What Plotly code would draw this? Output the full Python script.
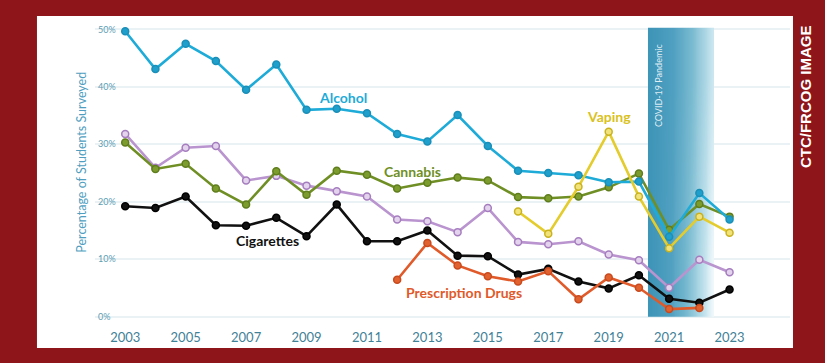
import plotly.graph_objects as go

years = list(range(2003, 2024))
alcohol = [49.7, 43.1, 47.5, 44.5, 39.5, 43.9, 36.0, 36.2, 35.4, 31.8, 30.5, 35.1, 29.7, 25.4, 25.0, 24.6, 23.4, 23.5, 13.9, 21.5, 16.9]
cannabis = [30.3, 25.7, 26.6, 22.3, 19.5, 25.3, 21.2, 25.4, 24.7, 22.3, 23.3, 24.2, 23.7, 20.8, 20.6, 20.9, 22.5, 24.9, 15.1, 19.6, 17.4]
purple = [31.8, 25.9, 29.4, 29.7, 23.7, 24.5, 22.8, 21.8, 20.9, 16.9, 16.6, 14.7, 18.9, 13.0, 12.6, 13.1, 10.8, 9.8, 5.0, 9.9, 7.7]
cigarettes = [19.2, 18.9, 20.9, 15.9, 15.8, 17.2, 14.0, 19.5, 13.1, 13.1, 15.0, 10.6, 10.5, 7.3, 8.3, 6.1, 4.9, 7.2, 3.1, 2.4, 4.7]
rx_years = list(range(2012, 2023))
prescription = [6.4, 12.8, 8.9, 7.0, 6.1, 7.9, 3.0, 6.8, 5.0, 1.3, 1.5]
vape_years = list(range(2016, 2024))
vaping = [18.3, 14.4, 22.6, 32.2, 20.9, 11.9, 17.4, 14.6]

y_ticks = [0, 10, 20, 30, 40, 50]
y_tick_text = ["0%", "10%", "20%", "30%", "40%", "50%"]
x_ticks = [2003, 2005, 2007, 2009, 2011, 2013, 2015, 2017, 2019, 2021, 2023]

covid_start, covid_end, covid_top = 2020.3, 2022.48, 50.3

RED = "#8e1519"
FONT = "Lato"

fig = go.Figure()

# covid band as a smooth gradient (decoration)
N = 24
band_x = [covid_start + (covid_end - covid_start) * i / N for i in range(N + 1)]
band_z = []
for yf in [0.0, 0.5, 1.0]:
    row = []
    for i in range(N):
        t = (i + 0.5) / N
        row.append(t + 0.12 * (1 - yf) * t)
    band_z.append(row)
fig.add_trace(go.Heatmap(
    x=band_x, y=[0, covid_top * 0.33, covid_top * 0.66, covid_top],
    z=band_z, zmin=0, zmax=1.1,
    colorscale=[[0, "rgb(60,148,182)"], [0.35, "rgb(80,160,193)"],
                [0.6, "rgb(120,186,208)"], [0.85, "rgb(190,224,235)"],
                [1, "rgb(240,248,251)"]],
    showscale=False, hoverinfo="skip", zsmooth="best"))

def add_series(x, y, color, fill, border, name):
    fig.add_trace(go.Scatter(
        x=x, y=y, mode="lines+markers", name=name,
        line=dict(color=color, width=2.6),
        marker=dict(size=7, color=fill, line=dict(color=border, width=1.5)),
        cliponaxis=False, showlegend=False))

add_series(years, purple, "#b994cf", "#e3d3ec", "#a57dbf", "Other")
add_series(years, cannabis, "#6f8f25", "#7d9c2e", "#5f7d1c", "Cannabis")
add_series(years, alcohol, "#1eabd8", "#1f9fcb", "#1a8fb8", "Alcohol")
add_series(vape_years, vaping, "#e3cc2c", "#f2e27a", "#c9b21f", "Vaping")
add_series(years, cigarettes, "#111111", "#111111", "#000000", "Cigarettes")
add_series(rx_years, prescription, "#e05a2a", "#e2622f", "#c84a1e", "Prescription Drugs")

shapes = [dict(type="rect", xref="paper", yref="paper",
               x0=-0.0835, x1=1.0043, y0=-0.0645, y1=1.0065,
               fillcolor="white", line=dict(width=0), layer="below")]

annotations = [
    dict(x=2010.2, y=38.1, text="<b>Alcohol</b>", showarrow=False,
         font=dict(color="#1eabd8", size=14, family=FONT)),
    dict(x=2012.5, y=25.2, text="<b>Cannabis</b>", showarrow=False,
         font=dict(color="#6f8f25", size=14, family=FONT)),
    dict(x=2019.0, y=34.8, text="<b>Vaping</b>", showarrow=False,
         font=dict(color="#d9c222", size=14, family=FONT)),
    dict(x=2007.7, y=13.2, text="<b>Cigarettes</b>", showarrow=False,
         font=dict(color="#111111", size=14, family=FONT)),
    dict(x=2014.2, y=4.2, text="<b>Prescription Drugs</b>", showarrow=False,
         font=dict(color="#e05a2a", size=14, family=FONT)),
    dict(x=2020.63, y=40.3, text="COVID-19 Pandemic", textangle=-90, showarrow=False,
         font=dict(color="rgba(255,255,255,0.85)", size=9, family=FONT)),
    dict(xref="paper", x=-0.0187, y=26.8, xanchor="center", yanchor="middle",
         text="Percentage of Students Surveyed", textangle=-90,
         showarrow=False, font=dict(color="#4f9ec0", size=12.5, family=FONT)),
    dict(xref="paper", yref="paper", x=1.0216, y=0.745, xanchor="center", yanchor="middle",
         text="<b>CTC/FRCOG IMAGE</b>", textangle=-90, showarrow=False,
         font=dict(color="white", size=15, family="Liberation Sans")),
]

fig.update_layout(
    width=825, height=363,
    margin=dict(l=95, r=35, t=18, b=35),
    paper_bgcolor=RED, plot_bgcolor="rgba(0,0,0,0)",
    shapes=shapes, annotations=annotations,
    xaxis=dict(range=[2002, 2025], tickvals=x_ticks, showgrid=False, zeroline=False,
               showline=False, ticks="",
               tickfont=dict(color="#3f8197", size=13, family=FONT)),
    yaxis=dict(range=[-2, 52], tickvals=y_ticks, ticktext=y_tick_text,
               ticklabelposition="inside", showgrid=True, gridcolor="#eaf2f6",
               gridwidth=2, zeroline=False, showline=False, ticks="",
               tickfont=dict(color="#5d9db3", size=9, family=FONT)),
)

fig.write_html("out.html", config={"displayModeBar": False},
               post_script="document.body.style.margin='0';document.body.style.background='%s';" % RED)
